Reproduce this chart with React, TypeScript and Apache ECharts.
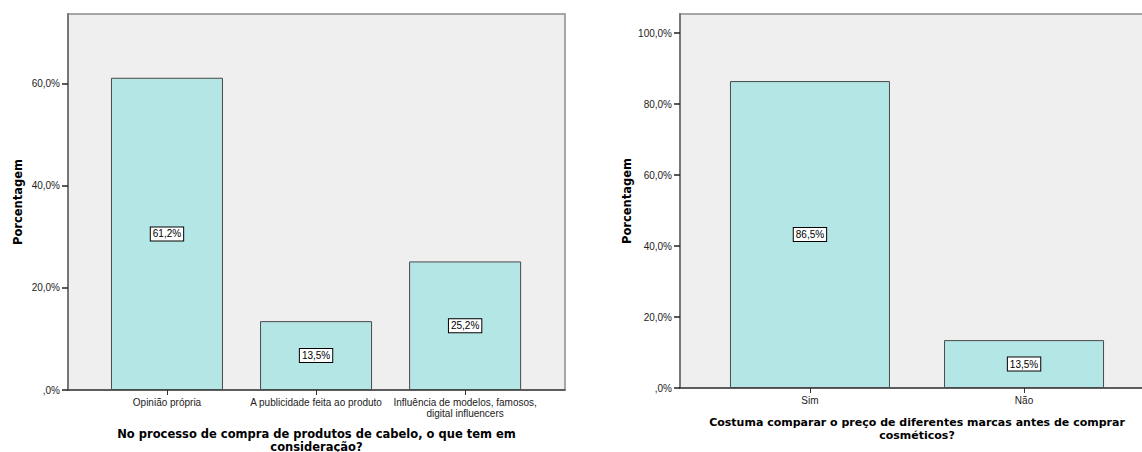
import React, { useEffect, useRef } from "react";
import * as echarts from "echarts";

// Left panel: what is considered when buying hair products
const leftCategories = [
  "Opinião própria",
  "A publicidade feita ao produto",
  "Influência de modelos, famosos,\ndigital influencers",
];
const leftValues = [61.2, 13.5, 25.2];
const leftTicks = [0, 20, 40, 60];

// Right panel: compares prices of different brands before buying cosmetics
const rightCategories = ["Sim", "Não"];
const rightValues = [86.5, 13.5];
const rightTicks = [0, 20, 40, 60, 80, 100];

const leftTitle = "No processo de compra de produtos de cabelo, o que tem em\nconsideração?";
const rightTitle = "Costuma comparar o preço de diferentes marcas antes de comprar\ncosméticos?";
const yTitle = "Porcentagem";

const pct = (v: number) => (v === 0 ? ",0%" : v.toFixed(1).replace(".", ",") + "%");

const BAR_FILL = "#b4e6e6";
const BAR_EDGE = "#4a4a4a";
const PLOT_BG = "#efefef";
const TICK_FONT = "'Liberation Sans', Arial, sans-serif";
const TITLE_FONT = "'DejaVu Sans', Verdana, sans-serif";

function xAxisFor(
  gridIndex: number,
  cats: string[],
  min: number,
  max: number,
  title: string,
  nameGap: number,
  titleSize: number
) {
  const positions = cats.map((_, i) => i + 1);
  return {
    type: "value",
    gridIndex,
    min,
    max,
    splitLine: { show: false },
    axisLine: { show: true, onZero: false, lineStyle: { color: "#444", width: 1.5 } },
    axisTick: { show: true, customValues: positions, length: 5, lineStyle: { color: "#333", width: 1 } },
    axisLabel: {
      customValues: positions,
      formatter: (v: number) => cats[Math.round(v) - 1] ?? "",
      fontFamily: TICK_FONT,
      fontSize: 10,
      color: "#222",
      margin: 7,
      lineHeight: 11,
    },
    name: title,
    nameLocation: "middle",
    nameGap,
    nameTextStyle: {
      fontFamily: TITLE_FONT,
      fontWeight: "bold",
      fontSize: titleSize,
      color: "#000",
      lineHeight: 13,
      verticalAlign: "top",
    },
  };
}

function yAxisFor(gridIndex: number, max: number, ticks: number[], nameGap: number) {
  return {
    type: "value",
    gridIndex,
    min: 0,
    max,
    splitLine: { show: false },
    axisLine: { show: true, lineStyle: { color: "#777", width: 2 } },
    axisTick: { show: true, customValues: ticks, length: 6, lineStyle: { color: "#222", width: 1.5 } },
    axisLabel: {
      customValues: ticks,
      formatter: (v: number) => pct(v),
      fontFamily: TICK_FONT,
      fontSize: 10,
      color: "#222",
      margin: 8,
    },
    name: yTitle,
    nameLocation: "middle",
    nameRotate: 90,
    nameGap,
    nameTextStyle: {
      fontFamily: TITLE_FONT,
      fontWeight: "bold",
      fontSize: 11.5,
      color: "#000",
    },
  };
}

function barSeries(index: number, values: number[], width: number) {
  return {
    type: "bar",
    xAxisIndex: index,
    yAxisIndex: index,
    data: values.map((v, i) => [i + 1, v]),
    barWidth: width,
    itemStyle: { color: BAR_FILL, borderColor: BAR_EDGE, borderWidth: 1 },
    label: {
      show: true,
      position: "inside",
      formatter: (p: any) => pct(p.value[1]),
      fontFamily: TICK_FONT,
      fontSize: 10,
      color: "#000",
      backgroundColor: "#fff",
      borderColor: "#000",
      borderWidth: 1,
      padding: [2, 2, 1, 2],
    },
  };
}

export default function App() {
  const ref = useRef<HTMLDivElement>(null);

  useEffect(() => {
    if (!ref.current) return;
    const chart = echarts.init(ref.current, undefined, { renderer: "svg" });
    const gridCommon = {
      show: true,
      backgroundColor: PLOT_BG,
      borderColor: "#8c8c8c",
      borderWidth: 1.5,
      containLabel: false,
      outerBoundsMode: "none",
    };
    chart.setOption({
      animation: false,
      backgroundColor: "#fff",
      grid: [
        { ...gridCommon, left: 68, top: 14, width: 497, height: 376 },
        { ...gridCommon, left: 680, top: 14, width: 474, height: 374 },
      ],
      xAxis: [
        xAxisFor(0, leftCategories, 0.336, 3.67, leftTitle, 37, 11.5),
        xAxisFor(1, rightCategories, 0.393, 2.607, rightTitle, 28, 11),
      ],
      yAxis: [yAxisFor(0, 73.7, leftTicks, 44), yAxisFor(1, 105.4, rightTicks, 47)],
      series: [barSeries(0, leftValues, 112), barSeries(1, rightValues, 160)],
    });
    return () => chart.dispose();
  }, []);

  return (
    <div
      ref={ref}
      style={{ position: "fixed", left: 0, top: 0, width: 1160, height: 452 }}
    />
  );
}
